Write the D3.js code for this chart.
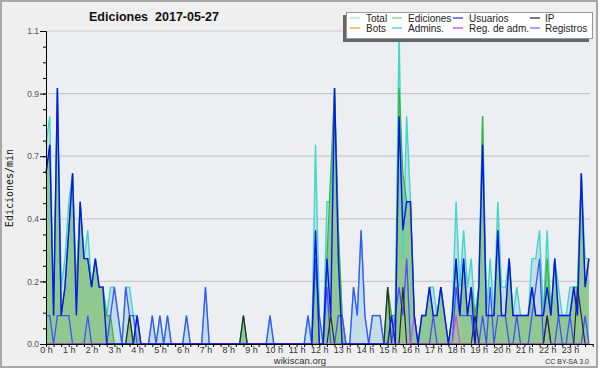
<!DOCTYPE html>
<html>
<head>
<meta charset="utf-8">
<script src="https://cdn.jsdelivr.net/npm/d3@7"></script>
<style>
  body { margin: 0; background: #fff; }
  svg { display: block; font-family: "Liberation Sans", Arial, sans-serif; }
</style>
</head>
<body>
<svg id="chart" width="600" height="370"></svg>
<script>
// Edits per minute, one value per 10-minute bin (144 bins, 0 h .. 24 h)
const total = [
  0.7,0.8,0.1,0.9,0.2,0.3,  0.5,0.6,0.2,0.5,0.3,0.4,  0.2,0.3,0.2,0.2,0.1,0.2,
  0.2,0.1,0,0.2,0.2,0.1,    0.1,0,0,0,0.1,0,        0.1,0,0.1,0,0,0,
  0,0.1,0,0,0,0,            0.2,0,0,0,0,0,          0,0,0,0,0.1,0,
  0,0,0,0,0,0.1,            0,0,0,0,0,0,            0,0,0,0.1,0,0.7,
  0.1,0,0.5,0.5,0.9,0.4,    0.1,0,0,0.2,0.1,0.4,    0.1,0,0.1,0.1,0.1,0,
  0.2,0.1,0.1,1.1,0.3,0.8,  0.5,0.1,0,0.1,0.1,0.2,  0.2,0.1,0.2,0.1,0,0.1,
  0.5,0.2,0.4,0.2,0.3,0.1,  0.2,0.8,0.1,0.3,0.1,0.5,  0.2,0.2,0.3,0.1,0.2,0.1,
  0.1,0.1,0.3,0.3,0.4,0.1,  0.4,0.1,0.3,0.2,0.1,0.1,  0.2,0.2,0.2,0.6,0.3,0.3
];
const ediciones = [
  0.6,0.7,0.1,0.9,0.1,0.2,  0.4,0.6,0.2,0.5,0.3,0.3,  0.2,0.3,0.2,0.2,0.1,0.1,
  0,0,0,0,0.1,0,            0.1,0,0,0,0,0,          0,0,0,0,0,0,
  0,0,0,0,0,0,              0,0,0,0,0,0,            0,0,0,0,0.1,0,
  0,0,0,0,0,0,              0,0,0,0,0,0,            0,0,0,0,0,0.3,
  0,0,0.3,0.6,0.9,0.4,      0.1,0,0,0,0,0,          0,0,0,0,0,0,
  0.2,0.1,0.1,0.9,0.6,0.5,  0.5,0.1,0,0.1,0.1,0.2,  0.1,0.1,0.2,0.1,0,0.1,
  0.3,0.1,0.3,0.1,0.2,0.1,  0.2,0.8,0.1,0.1,0.1,0.4,  0.1,0.1,0.3,0.1,0.1,0.1,
  0.1,0.1,0.2,0.1,0.1,0.1,  0.3,0.1,0.3,0.1,0.1,0.1,  0.1,0.2,0.2,0.6,0.2,0.3
];
const usuarios = [
  0.6,0.7,0.1,0.9,0.1,0.2,  0.4,0.6,0.1,0.5,0.3,0.3,  0.2,0.3,0.2,0.2,0,0,
  0,0,0,0,0,0,              0.1,0,0,0,0,0,          0,0,0,0,0,0,
  0,0,0,0,0,0,              0,0,0,0,0,0,            0,0,0,0,0,0,
  0,0,0,0,0,0,              0,0,0,0,0,0,            0,0,0,0,0,0.4,
  0,0,0.3,0.1,0.9,0.3,      0,0,0,0,0,0,            0,0,0,0,0,0,
  0,0.1,0,0.8,0.4,0.5,      0.5,0.1,0,0.1,0.1,0.2,  0.1,0.1,0.2,0.1,0,0.1,
  0.3,0.1,0.3,0.1,0.2,0,    0.2,0.7,0.1,0.1,0.1,0.4,  0.1,0.1,0.3,0.1,0.1,0.1,
  0.1,0.1,0.2,0.1,0.1,0.1,  0.2,0.1,0.3,0.1,0.1,0.1,  0.1,0.2,0.1,0.6,0.2,0.3
];
const ip = [
  0,0,0,0,0,0,    0,0,0,0,0,0,    0,0,0,0,0,0,
  0,0,0,0,0.1,0,  0,0,0,0,0,0,    0,0,0,0,0,0,
  0,0,0,0,0,0,    0,0,0,0,0,0,    0,0,0,0,0.1,0,
  0,0,0,0,0,0,    0,0,0,0,0,0,    0,0,0,0,0,0,
  0,0,0,0.1,0,0,  0,0,0,0,0,0,    0,0,0,0,0,0,
  0.2,0,0,0,0.2,0, 0,0,0,0,0,0,   0,0,0,0,0,0,
  0,0,0,0,0,0.1,  0,0,0,0,0,0,    0,0,0,0,0,0,
  0,0,0,0,0,0,    0.1,0,0,0,0,0,  0,0,0.2,0.1,0,0
];
const registros = [
  0.1,0.1,0,0.1,0.1,0.1,  0.1,0,0,0,0,0.1,      0,0,0,0,0,0.1,
  0.2,0.1,0,0.2,0.1,0.1,  0,0,0,0,0.1,0,        0.1,0,0.1,0,0,0,
  0,0.1,0,0,0,0,          0.2,0,0,0,0,0,        0,0,0,0,0,0,
  0,0,0,0,0,0.1,          0,0,0,0,0,0,          0,0,0,0.1,0,0.3,
  0.1,0,0.2,0,0,0.1,      0.1,0,0,0.2,0.1,0.4,  0.1,0,0.1,0.1,0.1,0,
  0,0,0.1,0.2,0.1,0.3,    0,0,0,0,0,0,          0.1,0,0,0,0,0,
  0.2,0.1,0.1,0.1,0.1,0,  0,0.1,0,0.2,0,0.1,    0.1,0.1,0,0,0.1,0,
  0,0,0.1,0.2,0.3,0,      0.1,0,0,0.1,0,0,      0.1,0,0,0,0.1,0
];
const regAdm = [
  0,0,0,0,0,0,  0,0,0,0,0,0,  0,0,0,0,0,0,  0,0,0,0,0,0,
  0,0,0,0,0,0,  0,0,0,0,0,0,  0,0,0,0,0,0,  0,0,0,0,0,0,
  0,0,0,0,0,0,  0,0,0,0,0,0,  0,0,0,0,0,0,  0,0,0,0,0,0,
  0,0,0,0,0,0,  0,0,0,0,0,0,  0,0,0,0,0,0,  0,0,0,0,0,0,
  0,0.1,0,0,0,0, 0,0,0,0,0,0, 0.1,0,0,0,0,0, 0,0,0,0,0,0,
  0,0,0,0,0,0,  0,0,0,0,0,0,  0,0,0,0,0,0,  0,0,0,0,0,0
];

// legend
const legendNames = ["Total", "Ediciones", "Usuarios", "IP", "Bots", "Admins.", "Reg. de adm.", "Registros"];
const legendColors = ["#a6e6dc", "#86cc86", "#3a3ae0", "#333333", "#ff9a30", "#3cd2dc", "#d848e8", "#6e6eff"];

// axis ticks
const yMajor = [0, 0.22, 0.44, 0.66, 0.88, 1.1];
const yMinor = d3.range(0, 1.1001, 0.055);
const binMinutes = 10;

const svg = d3.select("#chart");

// frame + plot background
svg.append("rect")
  .attr("x", 1).attr("y", 1).attr("width", 596).attr("height", 366)
  .attr("fill", "#efefef").attr("stroke", "#a8a8a8").attr("stroke-width", 2);

const x = d3.scaleLinear().domain([0, 1440]).range([46, 592.7]);
const y = d3.scaleLinear().domain([0, 1.1]).range([344, 31]);

svg.append("rect")
  .attr("x", 46).attr("y", 31).attr("width", 546).attr("height", 313)
  .attr("fill", "#eceef1");

// grid lines
svg.append("g")
  .selectAll("line")
  .data(yMajor.filter((d) => d > 0))
  .join("line")
  .attr("x1", 46).attr("x2", 590)
  .attr("y1", (d) => y(d)).attr("y2", (d) => y(d))
  .attr("stroke", "#c9c9c9").attr("stroke-width", 1.2);

const area = d3.area()
  .x((d, i) => x(i * binMinutes))
  .y0(y(0))
  .y1((d) => y(d));
const line = d3.line()
  .x((d, i) => x(i * binMinutes))
  .y((d) => y(d));

// areas
svg.append("path").datum(total).attr("d", area).attr("fill", "#c3dee8");
svg.append("path").datum(ediciones).attr("d", area).attr("fill", "#90c890");

// lines
const lines = [
  { data: total, color: "#3fd8c8", w: 1.4 },
  { data: ediciones, color: "#3cb03c", w: 1.2 },
  { data: registros, color: "#4350ff", w: 1.3 },
  { data: ip, color: "#2a2a2a", w: 1.2 },
  { data: regAdm, color: "#d848e8", w: 1.2 },
  { data: usuarios, color: "#0a14f0", w: 1.4 },
];
lines.forEach((s) => {
  svg.append("path")
    .datum(s.data)
    .attr("d", line)
    .attr("fill", "none")
    .attr("stroke", s.color)
    .attr("stroke-width", s.w)
    .attr("stroke-linejoin", "miter");
});

// y axis
const yMinorAxis = svg.append("g")
  .attr("transform", "translate(46,0)")
  .call(d3.axisLeft(y).tickValues(yMinor).tickSize(3).tickSizeOuter(0).tickFormat(""));
yMinorAxis.select(".domain").attr("stroke", "#000");

const yAxis = svg.append("g")
  .attr("transform", "translate(46,0)")
  .call(d3.axisLeft(y).tickValues(yMajor).tickSize(6).tickPadding(1).tickSizeOuter(0).tickFormat(d3.format(".1f")));
yAxis.select(".domain").attr("stroke", "#000");
yAxis.selectAll("text").attr("fill", "#555").attr("font-size", "8.5px");

// x axis
const xAxis = svg.append("g")
  .attr("transform", "translate(0,344)")
  .call(d3.axisBottom(x)
    .tickValues(d3.range(0, 1441, 20))
    .tickSize(3).tickPadding(0).tickSizeOuter(0)
    .tickFormat((m) => (m % 60 === 0 && m < 1440 ? m / 60 + " h" : "")));
xAxis.select(".domain").attr("stroke", "#000");
xAxis.selectAll("text").attr("fill", "#333").attr("font-size", "9px");

// title
svg.append("text")
  .attr("x", 154).attr("y", 21)
  .attr("text-anchor", "middle")
  .attr("font-size", "12.5px").attr("font-weight", "bold").attr("fill", "#111")
  .attr("xml:space", "preserve")
  .text("Ediciones  2017-05-27");

// y label
svg.append("text")
  .attr("transform", "translate(13,188) rotate(-90)")
  .attr("text-anchor", "middle")
  .attr("font-family", "DejaVu Sans Mono, monospace")
  .attr("font-size", "10px").attr("fill", "#111")
  .text("Ediciones/min");

// footer
svg.append("text")
  .attr("x", 300).attr("y", 364)
  .attr("text-anchor", "middle")
  .attr("font-size", "9.5px").attr("fill", "#333")
  .text("wikiscan.org");
svg.append("text")
  .attr("x", 589).attr("y", 364)
  .attr("text-anchor", "end")
  .attr("font-size", "7px").attr("fill", "#333")
  .text("CC BY-SA 3.0");

// legend box with shadow
svg.append("rect").attr("x", 343).attr("y", 15).attr("width", 246).attr("height", 27).attr("fill", "#666");
svg.append("rect").attr("x", 346.5).attr("y", 12.5).attr("width", 246).attr("height", 26)
  .attr("fill", "#fff").attr("stroke", "#999").attr("stroke-width", 1);

const legendCols = [350, 392, 453, 530];
const legendTextX = [366, 408, 469, 545];
const legendRows = [21.5, 31.5];
const legend = svg.append("g")
  .selectAll("g")
  .data(legendNames)
  .join("g");
legend.append("line")
  .attr("x1", (d, i) => legendCols[i % 4])
  .attr("x2", (d, i) => legendCols[i % 4] + 10)
  .attr("y1", (d, i) => legendRows[Math.floor(i / 4)] - 3.5)
  .attr("y2", (d, i) => legendRows[Math.floor(i / 4)] - 3.5)
  .attr("stroke", (d, i) => legendColors[i])
  .attr("stroke-width", 1.3);
legend.append("text")
  .attr("x", (d, i) => legendTextX[i % 4])
  .attr("y", (d, i) => legendRows[Math.floor(i / 4)])
  .attr("font-size", "10px").attr("fill", "#222")
  .text((d) => d);
</script>
</body>
</html>
